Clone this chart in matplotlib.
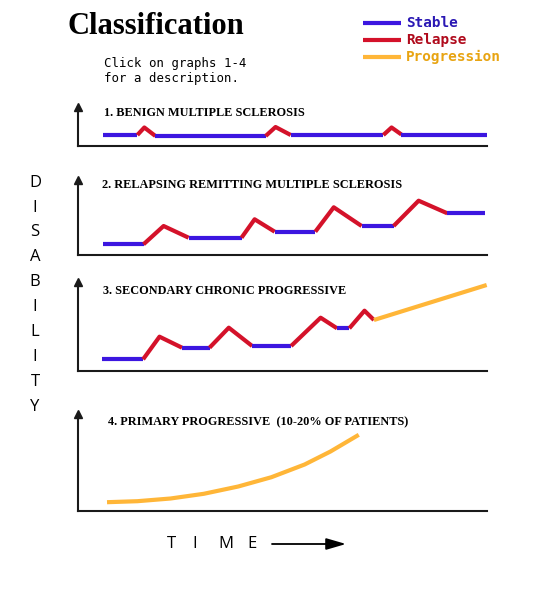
import matplotlib
matplotlib.use("Agg")
import matplotlib.pyplot as plt

# ---- colours ----
BLUE = '#3c16e0'
RED = '#d4122a'
ORANGE = '#ffb638'

# ---- data: time (0-100) and disability (px-ish units above baseline) ----
# state per segment: S = stable, R = relapse, P = progression
benign_t = [6.1, 14.6, 16.3, 19.0, 45.9, 48.3, 52.0, 74.6, 76.6, 79.0, 100.0]
benign_d = [11.0, 11.0, 18.5, 10.0, 10.0, 19.0, 11.0, 11.0, 18.5, 11.5, 11.5]
benign_s = ['S', 'R', 'R', 'S', 'R', 'R', 'S', 'R', 'R', 'S']

rr_t = [6.1, 16.1, 21.0, 27.1, 40.0, 43.2, 48.1, 58.0, 62.5, 69.3, 77.1, 83.2, 90.2, 99.5]
rr_d = [10.2, 10.2, 28.5, 16.8, 16.8, 35.2, 22.8, 22.8, 47.2, 28.5, 28.5, 53.8, 41.2, 41.2]
rr_s = ['S', 'R', 'R', 'S', 'R', 'R', 'S', 'R', 'R', 'S', 'R', 'R', 'S']

scp_t = [6.0, 16.0, 20.0, 25.5, 32.2, 36.9, 42.6, 52.1, 59.3, 63.3, 66.3, 70.0, 72.3, 99.8]
scp_d = [11.7, 11.7, 34.3, 23.3, 23.3, 43.3, 25.0, 25.0, 53.3, 42.7, 42.7, 60.3, 51.0, 86.0]
scp_s = ['S', 'R', 'R', 'S', 'R', 'R', 'S', 'R', 'R', 'S', 'R', 'R', 'P']

pp_t = [7.2, 14.6, 22.7, 30.8, 39.2, 47.3, 55.4, 61.7, 68.6]
pp_d = [8.3, 9.3, 12.0, 16.7, 24.0, 33.3, 46.0, 59.0, 75.7]
pp_s = ['P'] * 8

panel_titles = ['1. BENIGN MULTIPLE SCLEROSIS',
                '2. RELAPSING REMITTING MULTIPLE SCLEROSIS',
                '3. SECONDARY CHRONIC PROGRESSIVE',
                '4. PRIMARY PROGRESSIVE  (10-20% OF PATIENTS)']
legend_labels = ['Stable', 'Relapse', 'Progression']
legend_text_colors = ['#2a18b4', '#b00a1c', '#e8a412']
y_letters = list('DISABILITY')
time_letters = list('TIME')

STATE_COLOR = {'S': BLUE, 'R': RED, 'P': ORANGE}

W, H = 550, 595
fig = plt.figure(figsize=(W / 100, H / 100), dpi=100)

# overlay in pixel coordinates for the text
ov = fig.add_axes([0, 0, 1, 1])
ov.set_xlim(0, W)
ov.set_ylim(H, 0)
ov.axis('off')

ov.text(156, 34, 'Classification', fontsize=22, fontweight='bold',
        family='Liberation Serif', ha='center', va='baseline')
ov.text(104, 63.5, 'Click on graphs 1-4', fontsize=8.9, family='DejaVu Sans Mono', va='center')
ov.text(104, 78.5, 'for a description.', fontsize=8.9, family='DejaVu Sans Mono', va='center')

for i, (lab, tc, lc) in enumerate(zip(legend_labels, legend_text_colors, [BLUE, RED, ORANGE])):
    yy = 23.3 + i * 17
    ov.plot([363, 401], [yy, yy], color=lc, lw=3.0, solid_capstyle='butt')
    ov.text(406, yy, lab, color=tc, fontsize=10.4, fontweight='bold',
            family='DejaVu Sans Mono', va='center')

for i, ch in enumerate(y_letters):
    ov.text(35, 182.7 + i * 24.9, ch, fontsize=12, family='Open Sans',
            ha='center', va='center')

for x, ch in zip([171.7, 194.5, 225.7, 251.7], time_letters):
    ov.text(x, 544, ch, fontsize=12, family='Open Sans', ha='center', va='center')
ov.annotate('', xy=(346, 544), xytext=(272, 544),
            arrowprops=dict(arrowstyle='-|>,head_length=1.2,head_width=0.35',
                            color='black', lw=1.3, shrinkA=0, shrinkB=0))

# panels: (baseline px, top px, title position px, data)
panels = [
    (146.0, 107.0, (104, 113.5), benign_t, benign_d, benign_s),
    (254.5, 180.0, (101.5, 184.5), rr_t, rr_d, rr_s),
    (371.0, 282.0, (103, 291), scp_t, scp_d, scp_s),
    (510.5, 414.0, (107.5, 422.5), pp_t, pp_d, pp_s),
]
x0, x1 = 77.5, 487.5

for (yb, yt, tpos, t, d, s), title in zip(panels, panel_titles):
    ax = fig.add_axes([x0 / W, 1 - yb / H, (x1 - x0) / W, (yb - yt) / H])
    ax.patch.set_alpha(0)
    ax.set_xlim(0, 100)
    ax.set_ylim(0, yb - yt)
    for side in ['top', 'right']:
        ax.spines[side].set_visible(False)
    for side in ['left', 'bottom']:
        ax.spines[side].set_color('#1a1a1a')
        ax.spines[side].set_linewidth(1.5)
    ax.set_xticks([])
    ax.set_yticks([])
    ax.plot([0], [1], marker='^', color='#1a1a1a', markersize=5.5,
            transform=ax.transAxes, clip_on=False)

    # group consecutive segments with the same state into one polyline
    start = 0
    for k in range(1, len(s) + 1):
        if k == len(s) or s[k] != s[start]:
            ax.plot(t[start:k + 1], d[start:k + 1], color=STATE_COLOR[s[start]],
                    lw=3.0, solid_capstyle='butt', solid_joinstyle='round', clip_on=False)
            start = k

    ov.text(tpos[0], tpos[1], title, fontsize=8.8, fontweight='bold',
            family='Liberation Serif', va='center')

fig.savefig('out.png', dpi=100)
